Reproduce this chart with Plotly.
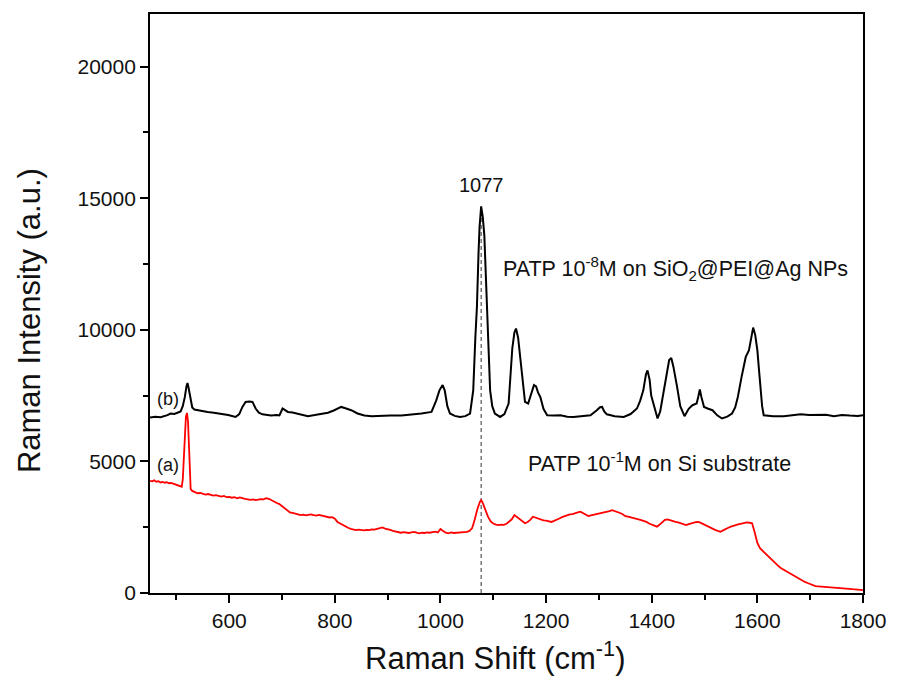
import plotly.graph_objects as go

# Spectrum (a): PATP 1e-1 M on Si substrate (red)
a_shift = [450, 454, 458, 462, 466, 470, 474, 478, 482, 486, 490, 494, 498, 502, 506, 510,
           512, 515, 518, 520, 522, 524, 527,
           530, 535, 540, 545, 550, 555, 560, 565, 570, 575, 580, 585, 590, 595, 600,
           605, 610, 615, 620, 625, 630, 635, 640, 645, 650, 655, 660, 665, 670, 675, 680, 685, 690, 695, 700,
           705, 710, 715, 720, 725, 730, 735, 740, 745, 750, 755, 760, 765, 770, 775, 780, 785, 790, 795, 800,
           805, 810, 815, 820, 825, 830, 835, 840, 845, 850, 855, 860, 865, 870, 875, 880, 885, 890, 895, 900,
           905, 910, 915, 920, 925, 930, 935, 940, 945, 950, 955, 960, 965, 970, 975, 980, 985, 990, 995, 1000,
           1005, 1010, 1015, 1020, 1025, 1030, 1035, 1040, 1045, 1050, 1055, 1060,
           1065, 1070, 1075, 1077, 1080, 1085, 1090, 1095,
           1100, 1105, 1110, 1115, 1120, 1125, 1130, 1135, 1140, 1145, 1150, 1155, 1160, 1165, 1170, 1175, 1180, 1185, 1190, 1195, 1200,
           1205, 1210, 1215, 1220, 1225, 1230, 1235, 1240, 1245, 1250, 1255, 1260, 1265, 1270, 1275, 1280, 1285, 1290, 1295, 1300,
           1305, 1310, 1315, 1320, 1325, 1330, 1335, 1340, 1345, 1350, 1355, 1360, 1365, 1370, 1375, 1380, 1385, 1390, 1395, 1400,
           1405, 1410, 1415, 1420, 1425, 1430, 1435, 1440, 1445, 1450, 1455, 1460, 1465, 1470, 1475, 1480, 1485, 1490, 1495, 1500,
           1505, 1510, 1515, 1520, 1525, 1530, 1535, 1540, 1545, 1550, 1555, 1560, 1565, 1570, 1575, 1580, 1585, 1590, 1595, 1600,
           1605, 1610, 1615, 1620, 1625, 1630, 1635, 1640, 1645, 1650, 1655, 1660, 1665, 1670, 1675, 1680, 1685, 1690, 1695, 1700,
           1705, 1710, 1715, 1720, 1725, 1730, 1735, 1740, 1745, 1750, 1755, 1760, 1765, 1770, 1775, 1780, 1785, 1790, 1795, 1800]
a_int = [4260, 4240, 4280, 4230, 4250, 4200, 4220, 4190, 4210, 4170, 4180, 4150, 4140, 4100, 4060, 4040,
         4300, 5700, 6700, 6840, 6500, 5500, 3950,
         3880, 3820, 3790, 3800, 3760, 3740, 3760, 3720, 3700, 3720, 3680, 3660, 3690, 3640, 3650,
         3620, 3640, 3600, 3630, 3590, 3580, 3560, 3540, 3560, 3530, 3550, 3570, 3560, 3600, 3580, 3520, 3480, 3420, 3380, 3300,
         3200, 3120, 3060, 3040, 3010, 2990, 2960, 2980, 2950, 2970, 2990, 2960, 2940, 2970, 2950, 2920, 2900, 2870, 2880, 2820,
         2700, 2640, 2600, 2540, 2480, 2440, 2420, 2390, 2410, 2400, 2380, 2400, 2390, 2420, 2410, 2440, 2470, 2490, 2450, 2430,
         2400, 2360, 2340, 2320, 2290, 2310, 2300, 2280, 2300, 2320, 2290, 2270, 2290, 2280, 2300, 2290, 2310, 2330, 2300, 2430,
         2360, 2290, 2270, 2300, 2280, 2290, 2310, 2300, 2330, 2320, 2360, 2470,
         2800, 3200, 3480, 3530, 3420, 3150, 2900, 2720,
         2640, 2600, 2580, 2600, 2590, 2630, 2700, 2800, 2960, 2880, 2800, 2720, 2650, 2700, 2780, 2900, 2860, 2820, 2800, 2760, 2750,
         2720, 2700, 2740, 2800, 2830, 2880, 2920, 2960, 2990, 3000, 3020, 3060, 3090, 3040, 2980, 2920, 2950, 2970, 2990, 3030,
         3030, 3060, 3080, 3110, 3150, 3120, 3080, 3040, 2990, 2920, 2900, 2880, 2860, 2840, 2800, 2770, 2740, 2700, 2640, 2600,
         2540, 2520, 2600, 2700, 2780, 2800, 2760, 2720, 2700, 2680, 2640, 2600, 2580, 2620, 2650, 2680, 2700, 2690, 2640, 2580,
         2520, 2480, 2440, 2400, 2360, 2330, 2380, 2440, 2480, 2520, 2560, 2590, 2620, 2640, 2660, 2680, 2670, 2650, 2300, 1900,
         1700, 1600, 1480, 1380, 1280, 1180, 1100, 1020, 940, 880, 820, 760, 700, 640, 580, 520, 470, 420, 380, 330,
         280, 260, 250, 240, 230, 220, 215, 200, 205, 190, 180, 175, 170, 160, 150, 145, 140, 130, 120, 110]

# Spectrum (b): PATP 1e-8 M on SiO2@PEI@Ag NPs (black)
b_shift = [450, 460, 470, 477, 483, 489, 496, 502, 508, 512, 516, 519, 521, 523, 526, 530, 534, 545, 559, 571,
           584, 598, 612, 619, 625, 631, 638, 644, 650, 656, 663, 679, 690, 695, 701, 706, 711, 720, 730, 749,
           762, 774, 787, 799, 812, 820, 831, 843, 856, 870, 888, 905, 926, 945, 964, 983, 992, 998, 1004, 1008,
           1013, 1018, 1027, 1037, 1047, 1056, 1062, 1066, 1069, 1072, 1074, 1077, 1080, 1083, 1086, 1088, 1091, 1094, 1098, 1103,
           1113, 1121, 1129, 1133, 1136, 1140, 1143, 1147, 1151, 1155, 1160, 1166, 1172, 1177, 1181, 1185, 1189, 1195, 1202, 1215,
           1227, 1240, 1252, 1268, 1284, 1296, 1302, 1306, 1310, 1315, 1330, 1347, 1360, 1372, 1378, 1384, 1389, 1392, 1396, 1399,
           1403, 1408, 1411, 1416, 1423, 1428, 1433, 1437, 1441, 1448, 1454, 1462, 1470, 1477, 1485, 1488, 1491, 1494, 1499, 1507,
           1515, 1524, 1533, 1543, 1552, 1558, 1563, 1570, 1578, 1584, 1588, 1592, 1596, 1600, 1603, 1606, 1609, 1612, 1630, 1650,
           1665, 1682, 1698, 1714, 1730, 1745, 1760, 1775, 1790, 1800]
b_int = [6670, 6700, 6680, 6720, 6760, 6820, 6800, 6850, 6900, 7100, 7450, 7850, 7980, 7800, 7400, 7050, 6970, 6920, 6880, 6850,
         6820, 6760, 6690, 6800, 7070, 7260, 7280, 7260, 7010, 6850, 6790, 6745, 6760, 6745, 7010, 6950, 6880, 6860, 6820, 6720,
         6760, 6790, 6850, 6945, 7070, 7020, 6945, 6820, 6745, 6720, 6717, 6740, 6745, 6770, 6820, 6880, 7320, 7700, 7900, 7700,
         7100, 6820, 6730, 6690, 6720, 6820, 7700, 9700, 10870, 12900, 13900, 14690, 14300, 13600, 11800, 10870, 8900, 7700, 7100, 6820,
         6690, 6800, 7200, 8300, 9300, 9900, 10050, 9700, 8970, 8000, 7260, 7200, 7600, 7900, 7850, 7600, 7450, 7000, 6755, 6740,
         6755, 6700, 6690, 6720, 6755, 6945, 7060, 7070, 6900, 6790, 6720, 6690, 6800, 7010, 7300, 7700, 8300, 8460, 8100, 7500,
         7200, 6800, 6630, 6900, 7700, 8300, 8850, 8930, 8600, 7830, 7100, 6717, 7000, 7135, 7200, 7450, 7730, 7450, 7070, 7000,
         6945, 6750, 6630, 6700, 6820, 7050, 7450, 8200, 8970, 9220, 9650, 10085, 9800, 9220, 8500, 7700, 7100, 6755, 6720, 6717,
         6740, 6793, 6760, 6755, 6770, 6717, 6760, 6740, 6730, 6755]

marker_shift = [1077]
marker_range = [0, 14400]

x_ticks = [600, 800, 1000, 1200, 1400, 1600, 1800]
y_ticks = [0, 5000, 10000, 15000, 20000]
y_tick_text = ["0", "5000", "10000", "15000", "20000"]

FONT = "Liberation Sans, Arial, sans-serif"

fig = go.Figure()
fig.add_trace(go.Scatter(x=[marker_shift[0]] * 2, y=marker_range, mode="lines",
                         line=dict(color="#333333", width=1, dash="4px,3px"), showlegend=False, hoverinfo="skip"))
fig.add_trace(go.Scatter(x=a_shift, y=a_int, mode="lines", line=dict(color="#ff0000", width=1.8),
                         showlegend=False))
fig.add_trace(go.Scatter(x=b_shift, y=b_int, mode="lines", line=dict(color="#000000", width=2),
                         showlegend=False))

annos = [
    dict(x=1077, y=15000, text="1077", yanchor="bottom", size=20),
    dict(x=1445, y=12330, text="PATP 10<sup>-8</sup>M on SiO<sub>2</sub>@PEI@Ag NPs", size=21.5),
    dict(x=1415, y=4970, text="PATP 10<sup>-1</sup>M on Si substrate", size=21.5),
    dict(x=484, y=7380, text="(b)", size=18),
    dict(x=484, y=4860, text="(a)", size=18),
]
for a in annos:
    fig.add_annotation(showarrow=False, xref="x", yref="y",
                       font=dict(family=FONT, color="#111111", size=a["size"]),
                       **{k: v for k, v in a.items() if k != "size"})

# axis titles as paper-positioned annotations
fig.add_annotation(text="Raman Intensity (a.u.)", textangle=-90, showarrow=False,
                   xref="paper", yref="paper", x=-0.168, y=0.47, xanchor="center", yanchor="middle",
                   font=dict(family=FONT, size=31, color="#111111"))
fig.add_annotation(text="Raman Shift (cm<sup>-1</sup>)", showarrow=False,
                   xref="paper", yref="paper", x=0.484, y=-0.108, xanchor="center", yanchor="middle",
                   font=dict(family=FONT, size=31, color="#111111"))

axis_common = dict(showline=True, linecolor="#000000", linewidth=1.8, mirror=True, showgrid=False, zeroline=False,
                   ticks="outside", ticklen=8, tickwidth=1.8, tickcolor="#000000",
                   tickfont=dict(family=FONT, size=21, color="#111111"))
fig.update_xaxes(range=[450, 1800], tickvals=x_ticks,
                 minor=dict(dtick=100, tick0=0, ticks="outside", ticklen=5, tickwidth=1.5, tickcolor="#000000"),
                 **axis_common)
fig.update_yaxes(range=[0, 22000], tickvals=y_ticks, ticktext=y_tick_text,
                 minor=dict(dtick=2500, tick0=0, ticks="outside", ticklen=5, tickwidth=1.5, tickcolor="#000000"),
                 **axis_common)
fig.update_layout(width=897, height=684, margin=dict(l=150, r=34, t=14, b=91),
                  paper_bgcolor="white", plot_bgcolor="white", showlegend=False)
fig.write_html("out.html")
